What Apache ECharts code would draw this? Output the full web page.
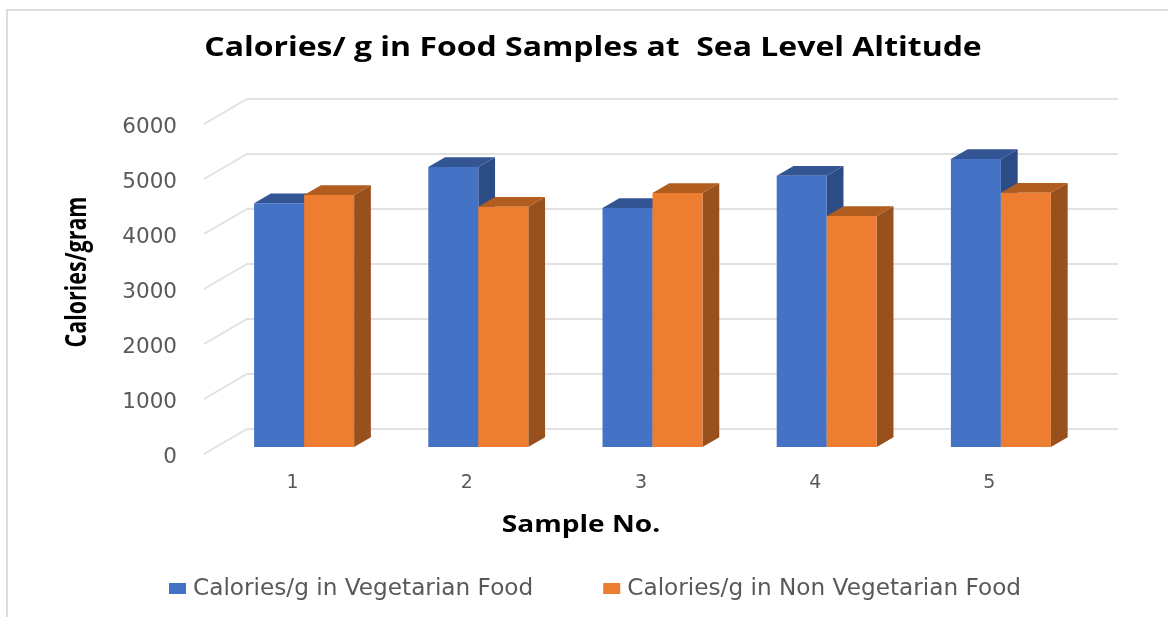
<!DOCTYPE html>
<html>
<head>
<meta charset="utf-8">
<style>
  html, body { margin: 0; padding: 0; background: #fff; }
  #chart { position: absolute; left: 0; top: 0; width: 1168px; height: 617px; }
  #frame { position: absolute; left: 6px; top: 9px; width: 1162px; height: 608px; box-sizing: border-box; border-left: 2px solid #dcdcdc; border-top: 2px solid #dcdcdc; }
</style>
<script src="https://cdn.jsdelivr.net/npm/echarts@6/dist/echarts.min.js"></script>
</head>
<body>
<div id="frame"></div>
<div id="chart"></div>
<script>
const sampleNumbers = ['1', '2', '3', '4', '5'];
const vegetarian = [4430, 5090, 4345, 4930, 5235];
const nonVegetarian = [4580, 4370, 4620, 4200, 4625];
const yTicks = [0, 1000, 2000, 3000, 4000, 5000, 6000];
const chartTitle = 'Calories/ g in Food Samples at  Sea Level Altitude';
const xAxisTitle = 'Sample No.';
const yAxisTitle = 'Calories/gram';
const legendNames = ['Calories/g in Vegetarian Food', 'Calories/g in Non Vegetarian Food'];

// Oblique projection of the chart box: the floor recedes up and to the right.
const WALL_DX = 43, WALL_DY = -25;
const BAR_FRONT = 0.28, BAR_BACK = 0.67;
const BAR_SHIFT = 13, BAR_WIDTH = 50;

function wallItem(params, api) {
  const front = api.coord([0, api.value(0)]);
  const rect = params.coordSys;
  const x0 = rect.x, y = front[1];
  const right = rect.x + rect.width + WALL_DX;
  return {
    type: 'polyline', silent: true,
    shape: { points: [[x0, y], [x0 + WALL_DX, y + WALL_DY], [right, y + WALL_DY]] },
    style: { fill: null, stroke: '#e2e2e2', lineWidth: 2 }
  };
}

function barItem(side, topColor, sideColor) {
  return function (params, api) {
    const top = api.coord([api.value(0), api.value(1)]);
    const base = api.coord([api.value(0), 0]);
    const oy = WALL_DY * BAR_FRONT;
    const dx = WALL_DX * (BAR_BACK - BAR_FRONT), dy = WALL_DY * (BAR_BACK - BAR_FRONT);
    const cx = top[0] + BAR_SHIFT;
    const x1 = cx + (side < 0 ? -BAR_WIDTH : 0), x2 = x1 + BAR_WIDTH;
    const yt = top[1] + oy, yb = base[1] + oy;
    return {
      type: 'group',
      children: [
        { type: 'polygon', shape: { points: [[x2, yt], [x2 + dx, yt + dy], [x2 + dx, yb + dy], [x2, yb]] }, style: { fill: sideColor } },
        { type: 'polygon', shape: { points: [[x1, yt], [x1 + dx, yt + dy], [x2 + dx, yt + dy], [x2, yt]] }, style: { fill: topColor } },
        { type: 'rect', shape: { x: x1, y: yt, width: BAR_WIDTH, height: yb - yt }, style: { fill: api.visual('color') } }
      ]
    };
  };
}

// Headings are drawn as scaled text so they can carry the wide and condensed faces.
function heading(text, x, y, size, scaleX, rotation, family) {
  return {
    type: 'text', x, y, rotation: rotation || 0, scaleX, silent: true,
    style: {
      text, align: 'center', verticalAlign: 'middle', fill: '#000',
      font: 'bold ' + size + 'px ' + family
    }
  };
}

const chart = echarts.init(document.getElementById('chart'), null, { renderer: 'canvas' });
const bodyFont = '"DejaVu Sans", sans-serif';
const headFont = '"Open Sans", sans-serif';
chart.setOption({
  animation: false,
  backgroundColor: 'transparent',
  graphic: [
    heading(chartTitle, 593, 48, 26.5, 1.206, 0, headFont),
    heading(xAxisTitle, 581, 525, 23, 1.22, 0, headFont),
    heading(yAxisTitle, 78, 272, 29, 0.74, Math.PI / 2, headFont)
  ],
  legend: {
    left: 169, top: 577, padding: 0, itemWidth: 17, itemHeight: 11, itemGap: 70, icon: 'rect',
    textStyle: { fontFamily: bodyFont, fontSize: 23.2, color: '#595959', padding: [0, 0, 0, 2] },
    data: legendNames
  },
  grid: { left: 204, top: 124, width: 871, height: 330 },
  xAxis: {
    type: 'category', data: sampleNumbers,
    axisLine: { show: false }, axisTick: { show: false }, splitLine: { show: false },
    axisLabel: { fontFamily: bodyFont, fontSize: 19, color: '#595959', margin: 20, padding: [0, 0, 0, 3] }
  },
  yAxis: {
    type: 'value', min: 0, max: 6000, interval: 1000,
    axisLine: { show: false }, axisTick: { show: false }, splitLine: { show: false },
    axisLabel: { fontFamily: bodyFont, fontSize: 21.5, color: '#595959', margin: 27, verticalAlign: 'top', lineHeight: 7, formatter: v => String(v) }
  },
  series: [
    {
      type: 'custom', name: 'walls', silent: true, z: 1, coordinateSystem: 'cartesian2d',
      data: yTicks.map(v => [v]), encode: { x: -1, y: 0 }, renderItem: wallItem
    },
    {
      type: 'custom', name: legendNames[0], z: 2,
      itemStyle: { color: '#4472c4' },
      data: vegetarian.map((v, i) => [i, v]), encode: { x: 0, y: 1 },
      renderItem: barItem(-1, '#335593', '#2b4c85')
    },
    {
      type: 'custom', name: legendNames[1], z: 3,
      itemStyle: { color: '#ed7d31' },
      data: nonVegetarian.map((v, i) => [i, v]), encode: { x: 0, y: 1 },
      renderItem: barItem(1, '#b25d20', '#98501c')
    }
  ]
});
</script>
</body>
</html>
